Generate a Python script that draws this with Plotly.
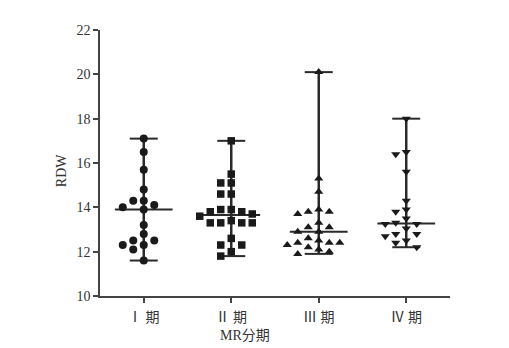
import numpy as np
import plotly.graph_objects as go

categories = ["Ⅰ 期", "Ⅱ 期", "Ⅲ 期", "Ⅳ 期"]
stage1 = [17.1, 16.5, 15.7, 14.8, 14.3, 14.3, 14.1, 14.0, 13.9, 13.2, 12.8, 12.5, 12.5, 12.3, 12.3, 12.1, 11.6]
stage2 = [17.0, 15.5, 15.1, 15.1, 14.6, 14.6, 13.9, 13.9, 13.8, 13.8, 13.7, 13.6, 13.3, 13.3, 13.3, 13.3, 13.4, 12.6, 12.3, 12.3, 12.0, 11.8]
stage3 = [20.1, 15.3, 14.7, 13.9, 13.8, 13.8, 13.7, 13.3, 13.1, 13.1, 12.9, 12.9, 12.6, 12.5, 12.4, 12.4, 12.4, 12.3, 12.2, 12.1, 12.0, 11.9]
stage4 = [18.0, 16.5, 16.4, 15.6, 14.3, 13.9, 13.8, 13.5, 13.3, 13.25, 13.25, 13.05, 12.8, 12.8, 12.7, 12.5, 12.4, 12.2]
yticks = [10, 12, 14, 16, 18, 20, 22]

groups = [stage1, stage2, stage3, stage4]
symbols = ["circle", "square", "triangle-up", "triangle-down"]

# pixel geometry for beeswarm layout
W, H = 509, 348
ML, MR_, MT, MB = 100, 59, 30, 52
px_x = (W - ML - MR_) / 4.0       # px per x unit
px_y = (H - MT - MB) / 12.0       # px per y unit
DIAM = 8.0
STEP = 10.5


def swarm(values):
    order = np.argsort(values)[::-1]
    placed = []
    offs = np.zeros(len(values))
    for idx in order:
        yv = values[idx] * px_y
        k = 0
        while True:
            cands = [0] if k == 0 else [-k * STEP, k * STEP]
            ok_c = None
            for c in cands:
                if all(not (abs(c - px) < DIAM and abs(yv - py) < DIAM) for px, py in placed):
                    ok_c = c
                    break
            if ok_c is not None:
                placed.append((ok_c, yv))
                offs[idx] = ok_c / px_x
                break
            k += 1
    return offs


fig = go.Figure()
LC = "#2a2a2a"
for i, (vals, sym) in enumerate(zip(groups, symbols)):
    v = np.array(vals)
    med = float(np.median(v))
    lo, hi = float(v.min()), float(v.max())
    # range line
    fig.add_trace(go.Scatter(x=[i, i], y=[lo, hi], mode="lines",
                             line=dict(color=LC, width=2.5), hoverinfo="skip"))
    for yy, hw in [(lo, 0.16), (hi, 0.16), (med, 0.33)]:
        fig.add_trace(go.Scatter(x=[i - hw, i + hw], y=[yy, yy], mode="lines",
                                 line=dict(color=LC, width=2), hoverinfo="skip"))
    offs = swarm(v)
    fig.add_trace(go.Scatter(x=i + offs, y=v, mode="markers",
                             marker=dict(symbol=sym, size=8 if sym != "square" else 7.5,
                                         color="#1a1a1a", line=dict(width=0))))

font = dict(family="Liberation Serif, Noto Sans CJK SC, serif", size=14, color="#333")
fig.update_layout(
    width=W, height=H, margin=dict(l=ML, r=MR_, t=MT, b=MB),
    plot_bgcolor="white", paper_bgcolor="white", showlegend=False, font=font,
    xaxis=dict(range=[-0.5, 3.5], tickvals=[0, 1, 2, 3], ticktext=categories,
               showgrid=False, zeroline=False, showline=True, linecolor="#444",
               linewidth=1.5, ticks="outside", ticklen=5, tickcolor="#444", tickwidth=1.5,
               ticklabelstandoff=2),
    yaxis=dict(range=[10, 22], tickvals=yticks, showgrid=False, zeroline=False,
               showline=True, linecolor="#444", linewidth=1.5, ticks="outside",
               ticklen=5, tickcolor="#444", tickwidth=1.5),
    annotations=[
        dict(text="RDW", xref="paper", yref="paper", x=-0.108, y=0.47,
             textangle=-90, showarrow=False, xanchor="center", yanchor="middle", font=font),
        dict(text="MR分期", xref="paper", yref="paper", x=(245 - ML) / 350.0, y=-0.15,
             showarrow=False, xanchor="center", yanchor="middle", font=font),
    ],
)
fig.write_html("out.html")
